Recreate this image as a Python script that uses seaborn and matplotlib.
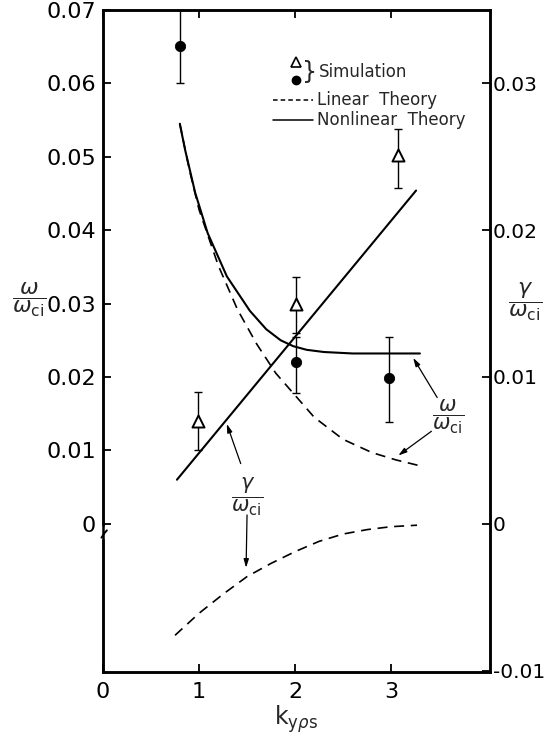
import matplotlib
matplotlib.use("Agg")
import matplotlib.pyplot as plt
import seaborn as sns
import numpy as np
import pandas as pd

# ---------------- data ----------------
nl_omega_k = [0.80, 0.854, 0.96, 1.09, 1.29, 1.53, 1.70, 1.85, 1.98, 2.12, 2.30, 2.60, 3.30]
nl_omega = [0.0545, 0.0510, 0.0451, 0.0396, 0.0337, 0.0290, 0.0265, 0.0250, 0.0242, 0.0237, 0.0234, 0.0232, 0.0232]

lin_omega_k = [0.80, 0.90, 1.00, 1.20, 1.40, 1.60, 1.80, 2.00, 2.20, 2.50, 2.80, 3.05, 3.30]
lin_omega = [0.0545, 0.0482, 0.0428, 0.0352, 0.0292, 0.0245, 0.0205, 0.0175, 0.0145, 0.0115, 0.0097, 0.0087, 0.0079]

nl_gamma_k = [0.77, 3.26]
nl_gamma = [0.0030, 0.0227]

lin_gamma_k = [0.75, 1.00, 1.25, 1.50, 1.75, 2.00, 2.25, 2.50, 2.75, 3.00, 3.27]
lin_gamma = [-0.0076, -0.0061, -0.0048, -0.0036, -0.0027, -0.0019, -0.0012, -0.0007, -0.0004, -0.0002, -0.0001]

sim_gamma_k = [0.99, 2.01, 3.07]
sim_gamma = [0.0070, 0.0150, 0.0251]
sim_gamma_lo = [0.0050, 0.0130, 0.0229]
sim_gamma_hi = [0.0090, 0.0168, 0.0269]

sim_omega_k = [0.80, 2.01, 2.98]
sim_omega = [0.0651, 0.0221, 0.0198]
sim_omega_lo = [0.0601, 0.0178, 0.0138]
sim_omega_hi = [0.0700, 0.0255, 0.0255]

x_ticks = [0, 1, 2, 3]
left_ticks = [0, 0.01, 0.02, 0.03, 0.04, 0.05, 0.06, 0.07]
left_labels = ["0", "0.01", "0.02", "0.03", "0.04", "0.05", "0.06", "0.07"]
right_ticks = [-0.01, 0, 0.01, 0.02, 0.03]
right_labels = ["-0.01", "0", "0.01", "0.02", "0.03"]

# ---------------- style ----------------
sns.set_style("ticks")
plt.rcParams["font.family"] = ["DejaVu Sans"]
plt.rcParams["mathtext.fontset"] = "dejavusans"

W, H = 548, 738
fig = plt.figure(figsize=(W / 100, H / 100), dpi=100)
L, R, T, B = 103, 490, 10, 672
ax = fig.add_axes([L / W, (H - B) / H, (R - L) / W, (B - T) / H])
ax2 = ax.twinx()

K = "black"
lw_curve = 1.5
dash = (6, 4)

# omega curves (left axis)
sns.lineplot(x=nl_omega_k, y=nl_omega, ax=ax, color=K, lw=lw_curve, sort=False, estimator=None)
sns.lineplot(x=lin_omega_k, y=lin_omega, ax=ax, color=K, lw=1.2, sort=False, estimator=None,
             linestyle=(0, dash))

# gamma curves (right axis)
sns.lineplot(x=nl_gamma_k, y=nl_gamma, ax=ax2, color=K, lw=lw_curve, sort=False, estimator=None)
sns.lineplot(x=lin_gamma_k, y=lin_gamma, ax=ax2, color=K, lw=1.2, sort=False, estimator=None,
             linestyle=(0, dash))

# simulation points
om = np.array(sim_omega)
ax.errorbar(sim_omega_k, om, yerr=[om - np.array(sim_omega_lo), np.array(sim_omega_hi) - om],
            fmt="none", ecolor=K, elinewidth=1.0, capsize=3.2, capthick=1.0, clip_on=False)
sns.scatterplot(x=sim_omega_k, y=sim_omega, ax=ax, marker="o", s=55, color=K, edgecolor=K, zorder=5)

gm = np.array(sim_gamma)
ax2.errorbar(sim_gamma_k, gm, yerr=[gm - np.array(sim_gamma_lo), np.array(sim_gamma_hi) - gm],
             fmt="none", ecolor=K, elinewidth=1.0, capsize=3.2, capthick=1.0)
sns.scatterplot(x=sim_gamma_k, y=sim_gamma, ax=ax2, marker="^", s=75, facecolor="white",
                edgecolor=K, linewidth=1.4, zorder=5)

# ---------------- axes ----------------
ax.set_xlim(0, 4.03)
ax.set_ylim(-0.0202, 0.07)
ax2.set_ylim(-0.0101, 0.035)

ax.set_xticks(x_ticks)
ax.set_xticklabels([str(t) for t in x_ticks])
ax.set_yticks(left_ticks)
ax.set_yticklabels(left_labels)
ax2.set_yticks(right_ticks)
ax2.set_yticklabels(right_labels)

for a in (ax, ax2):
    for s in a.spines.values():
        s.set_linewidth(1.8)
        s.set_color(K)
        s.set_visible(True)

ax.tick_params(axis="x", which="both", direction="in", length=6, width=1.3, labelsize=16,
               pad=7, top=True, bottom=True, colors=K)
ax.tick_params(axis="y", direction="in", length=6, width=1.3, labelsize=16, pad=5, colors=K,
               right=False)
ax2.tick_params(axis="y", direction="in", length=6, width=1.3, labelsize=14.5, pad=2, colors=K)

# axis labels
ax.set_xlabel(r"$\mathregular{k}_{\mathregular{y}\rho\mathregular{s}}$", fontsize=17, va="center")
ax.xaxis.set_label_coords(0.499, -0.071)
ax.set_ylabel(r"$\dfrac{\omega}{\omega_{\mathregular{ci}}}$", fontsize=16, rotation=0,
              ha="center", va="center")
ax.yaxis.set_label_coords(-0.19, 0.562)
ax2.set_ylabel(r"$\dfrac{\gamma}{\omega_{\mathregular{ci}}}$", fontsize=16, rotation=0,
               ha="center", va="center")
ax2.yaxis.set_label_coords(1.09, 0.559)

# axis break mark on the left spine
tb = ax.transAxes
yb = (B - 533) / (B - T)
ax.plot([0, 0], [yb - 0.006, yb + 0.006], color="white", lw=4, transform=tb, clip_on=False, zorder=6)
ax.plot([-0.004, 0.004, 0.010], [yb - 0.007, yb, yb + 0.004], color=K, lw=1.4, transform=tb,
        clip_on=False, zorder=7)

# ---------------- annotations ----------------
frac_w = r"$\dfrac{\omega}{\omega_{\mathregular{ci}}}$"
frac_g = r"$\dfrac{\gamma}{\omega_{\mathregular{ci}}}$"
arrow = dict(arrowstyle="-|>,head_length=0.5,head_width=0.15", color=K, lw=0.9, shrinkA=0, shrinkB=0)

ax2.text(1.50, 0.0018, frac_g, fontsize=15, ha="center", va="center")
ax2.annotate("", xy=(1.289, 0.0068), xytext=(1.434, 0.0041), arrowprops=arrow)
ax2.annotate("", xy=(1.49, -0.0030), xytext=(1.50, 0.0006), arrowprops=arrow)

ax.text(3.59, 0.0146, frac_w, fontsize=15, ha="center", va="center")
ax.annotate("", xy=(3.23, 0.0226), xytext=(3.48, 0.0172), arrowprops=arrow)
ax.annotate("", xy=(3.075, 0.0093), xytext=(3.42, 0.0126), arrowprops=arrow)

# ---------------- legend (drawn as key) ----------------
ax.plot([0.499], [0.921], marker="^", ms=7, mfc="white", mec=K, mew=1.2, transform=tb)
ax.plot([0.499], [0.895], marker="o", ms=6, color=K, transform=tb)
ax.text(0.513, 0.907, "}", fontsize=17, ha="left", va="center", transform=tb)
ax.text(0.557, 0.907, "Simulation", fontsize=12, ha="left", va="center", transform=tb)
ax.plot([0.439, 0.543], [0.864, 0.864], color=K, lw=1.1, linestyle=(0, (3, 2)), transform=tb)
ax.text(0.553, 0.864, "Linear  Theory", fontsize=12, ha="left", va="center", transform=tb)
ax.plot([0.439, 0.543], [0.834, 0.834], color=K, lw=1.1, transform=tb)
ax.text(0.553, 0.834, "Nonlinear  Theory", fontsize=12, ha="left", va="center", transform=tb)

fig.savefig("out.png", dpi=100)
